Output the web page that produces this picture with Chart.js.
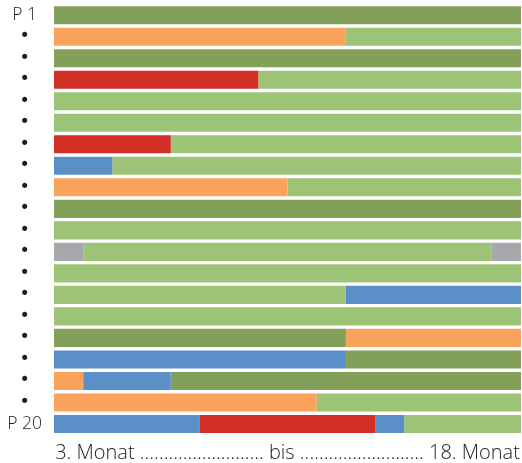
<!DOCTYPE html>
<html lang="de">
<head>
<meta charset="utf-8">
<title>Verlauf P 1 bis P 20</title>
<script src="https://cdn.jsdelivr.net/npm/chart.js@4.4.1/dist/chart.umd.min.js"></script>
<style>
  html, body { margin: 0; padding: 0; background: #fff; }
  #wrap { position: relative; width: 522px; height: 463px; }
</style>
</head>
<body>
<div id="wrap"><canvas id="verlauf"></canvas></div>
<script>
// Zeilen (Patienten)
const patients = ['P 1', '•', '•', '•', '•', '•', '•', '•', '•', '•',
                  '•', '•', '•', '•', '•', '•', '•', '•', '•', 'P 20'];

// Abschnitte je Zeile, Länge in Monaten (3. bis 18. Monat = 16 Monate)
const part1Months = [16, 10, 16, 7, 16, 16, 4, 2, 8, 16, 16, 1, 16, 10, 16, 10, 10, 1, 9, 5];
const part1State  = ['dg', 'or', 'dg', 'rd', 'lg', 'lg', 'rd', 'bl', 'or', 'dg',
                     'lg', 'gy', 'lg', 'lg', 'lg', 'dg', 'bl', 'or', 'or', 'bl'];
const part2Months = [0, 6, 0, 9, 0, 0, 12, 14, 8, 0, 0, 14, 0, 6, 0, 6, 6, 3, 7, 6];
const part2State  = [null, 'lg', null, 'lg', null, null, 'lg', 'lg', 'lg', null,
                     null, 'lg', null, 'bl', null, 'or', 'dg', 'bl', 'lg', 'rd'];
const part3Months = [0, 0, 0, 0, 0, 0, 0, 0, 0, 0, 0, 1, 0, 0, 0, 0, 0, 12, 0, 1];
const part3State  = [null, null, null, null, null, null, null, null, null, null,
                     null, 'gy', null, null, null, null, null, 'dg', null, 'bl'];
const part4Months = [0, 0, 0, 0, 0, 0, 0, 0, 0, 0, 0, 0, 0, 0, 0, 0, 0, 0, 0, 4];
const part4State  = [null, null, null, null, null, null, null, null, null, null,
                     null, null, null, null, null, null, null, null, null, 'lg'];

const firstMonth = '3. Monat';
const lastMonth = '18. Monat';
const totalMonths = 16;

const stateColors = {
  dg: '#82a05a',
  lg: '#9dc476',
  or: '#f9a35c',
  rd: '#d22f27',
  bl: '#5b8fc8',
  gy: '#a6a8ab'
};

const parts = [
  [part1Months, part1State],
  [part2Months, part2State],
  [part3Months, part3State],
  [part4Months, part4State]
];

const datasets = parts.map(([months, states], i) => ({
  label: 'Abschnitt ' + (i + 1),
  data: months,
  backgroundColor: states.map(s => s ? stateColors[s] : 'rgba(0,0,0,0)'),
  borderWidth: 0,
  barPercentage: 0.84,
  categoryPercentage: 1.0
}));

const dots = '.'.repeat(26);
const xTitle = firstMonth + ' ' + dots + ' bis ' + dots + ' ' + lastMonth;

const ctx = document.getElementById('verlauf').getContext('2d');
new Chart(ctx, {
  type: 'bar',
  data: { labels: patients, datasets: datasets },
  options: {
    indexAxis: 'y',
    responsive: true,
    maintainAspectRatio: false,
    animation: false,
    layout: { padding: { top: 4.5, right: 1, left: 0, bottom: 0 } },
    plugins: {
      legend: { display: false },
      tooltip: { enabled: false }
    },
    scales: {
      x: {
        stacked: true,
        min: 0,
        max: totalMonths,
        grid: { display: false, drawTicks: false },
        border: { display: false },
        ticks: { display: false },
        title: {
          display: true,
          text: xTitle,
          color: '#1e1e1e',
          font: { family: 'Open Sans', size: 20, weight: 300, lineHeight: 1.0 },
          padding: { top: 0, bottom: 0 }
        },
        afterFit: scale => { scale.height = 28.3; }
      },
      y: {
        stacked: true,
        grid: { display: false, drawTicks: false },
        border: { display: false },
        ticks: {
          color: '#1e1e1e',
          autoSkip: false,
          crossAlign: 'center',
          padding: 12,
          font: c => c.tick && c.tick.label === '•'
            ? { family: 'DejaVu Sans', size: 17.5 }
            : { family: 'Open Sans', size: 17.5, weight: 300 }
        },
        afterFit: scale => {
          scale.width = 54;
          scale.paddingTop = 0;
          scale.paddingBottom = 0;
        }
      }
    }
  }
});
</script>
</body>
</html>
